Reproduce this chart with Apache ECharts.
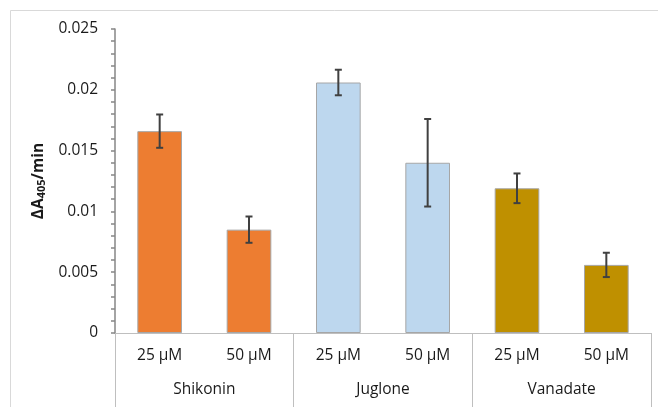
<!DOCTYPE html>
<html><head><meta charset="utf-8">
<script src="https://cdn.jsdelivr.net/npm/echarts@6/dist/echarts.min.js"></script>
<style>html,body{margin:0;padding:0;background:#fff}#c{width:658px;height:407px}</style>
</head><body><div id="c"></div>
<script>
const concentrations = ['25 µM','50 µM','25 µM','50 µM','25 µM','50 µM'];
const groups = ['Shikonin','Juglone','Vanadate'];
const values = [0.0166, 0.0085, 0.0206, 0.0140, 0.0119, 0.0056];
const errors = [0.00137, 0.00108, 0.00105, 0.0036, 0.00122, 0.001];
const yTicks = [0, 0.005, 0.01, 0.015, 0.02, 0.025];
const groupColors = ['#ED7D31', '#BDD7EE', '#BF9000'];

const FONT = 'Open Sans';
const chart = echarts.init(document.getElementById('c'), null, {renderer:'canvas'});
const barData = values.map((v,i)=>({value:v, itemStyle:{color:groupColors[Math.floor(i/2)]}}));
const errData = values.map((v,i)=>[i, v-errors[i], v+errors[i]]);

chart.setOption({
  animation:false,
  backgroundColor:'#fff',
  textStyle:{fontFamily:FONT},
  graphic:[{type:'polyline', shape:{points:[[10.5,407],[10.5,10.5],[658,10.5]]}, style:{stroke:'#D9D9D9', lineWidth:1, fill:null}, silent:true}],
  grid:{left:115, right:7, top:29, bottom:74, containLabel:false},
  xAxis:[{
    type:'category', data:concentrations, position:'bottom',
    axisLine:{lineStyle:{color:'#BFBFBF', width:1}},
    axisTick:{show:false},
    axisLabel:{color:'#1a1a1a', fontSize:15.5, margin:15, fontFamily:FONT}
  },{
    type:'category', data:groups, position:'bottom', gridIndex:0,
    axisLine:{show:false},
    axisTick:{show:true, length:76, lineStyle:{color:'#BFBFBF', width:1}},
    axisLabel:{color:'#1a1a1a', fontSize:15.5, margin:49, fontFamily:FONT}
  }],
  yAxis:{
    type:'value', min:yTicks[0], max:yTicks[yTicks.length-1], interval:0.005,
    name:'ΔA{sub|405}/min', nameLocation:'middle', nameGap:61, nameRotate:90,
    nameTextStyle:{fontSize:15.5, fontWeight:'bold', color:'#1a1a1a', fontFamily:FONT,
      rich:{sub:{fontSize:11, fontWeight:'bold', color:'#1a1a1a', verticalAlign:'bottom', padding:[6,0,0,0], fontFamily:FONT}}},
    axisLine:{show:true, lineStyle:{color:'#868686', width:1.5}},
    axisTick:{show:true, length:4, inside:false, lineStyle:{color:'#868686', width:1.5}},
    minorTick:{show:true, splitNumber:5, length:4, lineStyle:{color:'#868686', width:1.5}},
    splitLine:{show:false},
    axisLabel:{color:'#1a1a1a', fontSize:15.5, margin:17, fontFamily:FONT,
      formatter:v=>String(+v.toFixed(4))}
  },
  series:[{
    type:'bar', data:barData, barWidth:'50%', xAxisIndex:0,
    itemStyle:{borderColor:'#A6A6A6', borderWidth:1}
  },{
    type:'custom', xAxisIndex:0, data:errData, z:10,
    renderItem:(params, api)=>{
      const x = api.coord([api.value(0), 0])[0];
      const lo = api.coord([api.value(0), api.value(1)])[1];
      const hi = api.coord([api.value(0), api.value(2)])[1];
      const w = 3.5;
      const st = {stroke:'#404040', lineWidth:2};
      return {type:'group', children:[
        {type:'line', shape:{x1:x,y1:lo,x2:x,y2:hi}, style:st},
        {type:'line', shape:{x1:x-w,y1:lo,x2:x+w,y2:lo}, style:st},
        {type:'line', shape:{x1:x-w,y1:hi,x2:x+w,y2:hi}, style:st}
      ]};
    }
  }]
});
</script></body></html>
